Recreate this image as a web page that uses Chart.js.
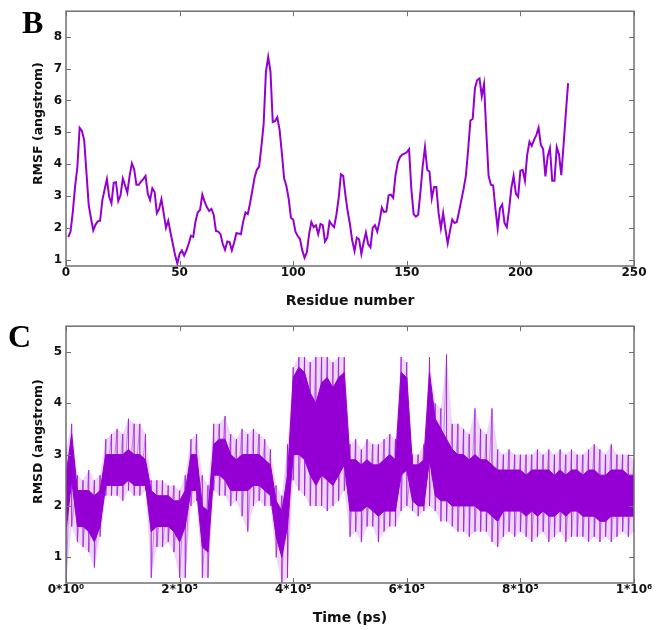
<!DOCTYPE html>
<html lang="en">
<head>
<meta charset="UTF-8" />
<title>RMSF and RMSD</title>
<script src="https://cdn.jsdelivr.net/npm/chart.js"></script>
<style>
  body { margin: 0; background: #fff; }
  #wrap { position: relative; width: 659px; height: 630px; }
  canvas { position: absolute; left: 0; }
  #rmsfChart { top: 0; }
  #rmsdChart { top: 315px; }
  .panel {
    position: absolute;
    font-family: 'Liberation Serif', serif;
    font-weight: bold;
    font-size: 32px;
    line-height: 1;
  }
</style>
</head>
<body>
<div id="wrap">
  <canvas id="rmsfChart" width="659" height="315"></canvas>
  <canvas id="rmsdChart" width="659" height="315"></canvas>
  <div class="panel" style="left:22px; top:6px;">B</div>
  <div class="panel" style="left:8px; top:320px;">C</div>
</div>

<script>
// panel B: RMSF per residue
const residues = [1,2,3,4,5,6,7,8,9,10,11,12,13,14,15,16,17,18,19,20,
  21,22,23,24,25,26,27,28,29,30,31,32,33,34,35,36,37,38,39,40,
  41,42,43,44,45,46,47,48,49,50,51,52,53,54,55,56,57,58,59,60,
  61,62,63,64,65,66,67,68,69,70,71,72,73,74,75,76,77,78,79,80,
  81,82,83,84,85,86,87,88,89,90,91,92,93,94,95,96,97,98,99,100,
  101,102,103,104,105,106,107,108,109,110,111,112,113,114,115,116,117,118,119,120,
  121,122,123,124,125,126,127,128,129,130,131,132,133,134,135,136,137,138,139,140,
  141,142,143,144,145,146,147,148,149,150,151,152,153,154,155,156,157,158,159,160,
  161,162,163,164,165,166,167,168,169,170,171,172,173,174,175,176,177,178,179,180,
  181,182,183,184,185,186,187,188,189,190,191,192,193,194,195,196,197,198,199,200,
  201,202,203,204,205,206,207,208,209,210,211,212,213,214,215,216,217,218,219,220,221];
const rmsf = [1.71,1.88,2.5,3.3,3.9,5.14,5.04,4.76,3.73,2.71,2.3,1.92,2.1,2.2,2.22,2.87,3.2,3.53,2.97,2.77,
  3.41,3.43,2.84,3.02,3.55,3.33,3.1,3.63,4.02,3.84,3.35,3.35,3.45,3.53,3.63,3.07,2.87,3.24,3.12,2.46,
  2.59,2.9,2.46,2.0,2.22,1.85,1.5,1.15,0.88,1.18,1.29,1.13,1.29,1.5,1.75,1.71,2.2,2.49,2.56,3.04,
  2.82,2.65,2.53,2.59,2.41,1.9,1.88,1.8,1.49,1.31,1.57,1.55,1.29,1.54,1.83,1.82,1.8,2.2,2.48,2.43,
  2.77,3.17,3.58,3.82,3.92,4.55,5.27,6.9,7.36,6.9,5.32,5.35,5.47,5.08,4.35,3.55,3.31,2.92,2.31,2.26,
  1.88,1.74,1.64,1.29,1.06,1.23,1.8,2.18,2.02,2.08,1.8,2.12,2.08,1.57,1.69,2.2,2.1,2.02,2.41,2.92,
  3.68,3.63,3.02,2.51,2.1,1.59,1.27,1.69,1.64,1.18,1.54,1.85,1.49,1.39,2.0,2.08,1.88,2.2,2.63,2.49,
  2.51,3.02,3.04,2.94,3.63,4.04,4.22,4.3,4.33,4.37,4.47,3.22,2.43,2.35,2.41,3.12,3.94,4.53,3.82,3.76,
  2.92,3.28,3.28,2.46,1.98,2.46,1.95,1.51,1.9,2.26,2.15,2.18,2.51,2.87,3.22,3.63,4.45,5.37,5.42,6.39,
  6.64,6.69,6.13,6.51,5.0,3.63,3.35,3.33,2.6,1.98,2.61,2.73,2.15,2.02,2.56,3.24,3.63,3.07,2.97,3.79,
  3.82,3.48,4.3,4.7,4.57,4.76,4.91,5.14,4.6,4.47,3.61,4.24,4.5,3.48,3.48,4.53,4.3,3.65,4.6,5.6,6.54];
const rmsfXTicks = [0, 50, 100, 150, 200, 250];
const rmsfYTicks = [1, 2, 3, 4, 5, 6, 7, 8];

// panel C: RMSD over time, read as bands every 1*10^4 ps
const time10kps = [0,1,2,3,4,5,6,7,8,9,10,11,12,13,14,15,16,17,18,19,20,
  21,22,23,24,25,26,27,28,29,30,31,32,33,34,35,36,37,38,39,40,
  41,42,43,44,45,46,47,48,49,50,51,52,53,54,55,56,57,58,59,60,
  61,62,63,64,65,66,67,68,69,70,71,72,73,74,75,76,77,78,79,80,
  81,82,83,84,85,86,87,88,89,90,91,92,93,94,95,96,97,98,99,100];
const rmsdMax = [3.1,3.6,2.6,2.5,2.7,2.5,2.6,3.3,3.4,3.5,3.4,3.7,3.6,3.6,3.4,2.5,2.5,2.5,2.4,2.4,2.3,
  2.6,3.3,3.4,2.6,2.4,3.6,3.6,3.75,3.4,3.3,3.5,3.4,3.5,3.4,3.3,3.1,2.4,2.2,3.2,4.7,
  4.9,4.9,4.8,4.9,4.9,4.9,4.8,4.9,4.9,3.2,3.3,3.1,3.3,3.2,3.2,3.3,3.4,3.3,4.9,4.8,
  3.0,3.0,3.2,4.9,4.0,3.9,4.95,3.6,3.6,3.5,3.4,3.9,3.5,3.4,3.9,3.1,3.0,3.1,3.0,3.0,
  3.0,3.0,3.1,3.0,3.1,3.0,3.1,3.0,3.1,3.0,3.0,3.1,3.2,3.1,3.0,3.2,3.0,3.0,3.0,2.9];
const rmsdCoreHi = [2.6,3.4,2.3,2.3,2.3,2.2,2.3,3.0,3.0,3.0,3.0,3.1,3.0,3.0,2.9,2.3,2.2,2.2,2.2,2.1,2.1,
  2.3,3.0,3.0,2.0,1.9,3.2,3.3,3.3,3.0,2.9,3.0,3.0,3.0,3.0,2.9,2.8,2.1,1.9,2.6,4.5,
  4.7,4.6,4.2,4.0,4.4,4.5,4.3,4.5,4.6,2.9,2.9,2.8,2.9,2.8,2.8,2.9,3.0,2.9,4.6,4.5,
  2.8,2.8,2.9,4.6,3.7,3.5,3.3,3.1,3.0,3.0,2.9,3.0,2.9,2.9,2.8,2.7,2.7,2.7,2.7,2.7,
  2.6,2.7,2.7,2.7,2.7,2.6,2.7,2.6,2.7,2.7,2.6,2.7,2.7,2.6,2.6,2.7,2.7,2.7,2.6,2.6];
const rmsdCoreLo = [1.5,2.5,1.6,1.6,1.5,1.3,1.6,2.4,2.4,2.4,2.4,2.5,2.4,2.4,2.4,1.5,1.6,1.6,1.6,1.5,1.3,
  1.6,2.3,2.3,1.2,1.1,2.6,2.6,2.5,2.3,2.3,2.3,2.3,2.4,2.4,2.3,2.2,1.4,1.0,1.6,3.0,
  3.0,2.9,2.6,2.4,2.6,2.5,2.4,2.6,2.8,1.9,1.9,1.9,2.0,1.9,1.8,1.9,1.9,1.9,2.6,2.7,
  2.1,2.0,2.0,2.9,2.2,2.1,2.1,2.0,2.0,2.0,2.0,2.0,1.9,1.9,1.8,1.7,1.9,1.9,1.9,1.9,
  1.8,1.9,1.8,1.9,1.8,1.8,1.9,1.8,1.9,1.9,1.8,1.8,1.8,1.7,1.7,1.8,1.8,1.8,1.8,1.8];
const rmsdMin = [0.5,1.6,1.3,1.2,1.1,0.8,1.4,2.2,2.2,2.2,2.1,2.3,2.2,2.2,2.3,0.6,1.2,1.2,1.3,1.1,0.6,
  0.6,2.0,2.1,0.6,0.6,2.3,2.2,2.2,2.0,2.1,1.8,1.5,2.0,2.1,2.0,2.0,1.0,0.5,0.6,2.5,
  2.3,2.2,2.0,2.0,2.0,1.9,2.0,2.1,2.3,1.4,1.5,1.3,1.6,1.6,1.3,1.5,1.6,1.6,1.9,2.0,
  1.9,1.8,1.9,2.0,1.9,1.7,1.7,1.6,1.5,1.5,1.4,1.5,1.5,1.5,1.3,1.2,1.4,1.5,1.4,1.5,
  1.4,1.3,1.4,1.5,1.3,1.4,1.5,1.3,1.4,1.4,1.4,1.3,1.4,1.3,1.4,1.3,1.4,1.5,1.4,1.5];
const rmsdXTicks = [0, 200000, 400000, 600000, 800000, 1000000];
const rmsdXLabels = ['0*10\u2070', '2*10\u2075', '4*10\u2075', '6*10\u2075', '8*10\u2075', '1*10\u2076'];
const rmsdYTicks = [1, 2, 3, 4, 5];

Chart.defaults.font.family = "'DejaVu Sans', Verdana, sans-serif";
Chart.defaults.font.weight = 'bold';
Chart.defaults.color = '#111';

const violet = '#9400D3';
const frameColor = '#707070';

// box around the plot with inward ticks on all four sides, plus rotated y title
const frameTicks = {
  id: 'frameTicks',
  afterDraw(chart, args, opts) {
    const { ctx, chartArea: a, scales } = chart;
    ctx.save();
    ctx.strokeStyle = frameColor;
    ctx.lineWidth = 1.5;
    ctx.strokeRect(a.left, a.top, a.right - a.left, a.bottom - a.top);
    ctx.lineWidth = 1;
    ctx.beginPath();
    scales.x.ticks.forEach(t => {
      const px = Math.round(scales.x.getPixelForValue(t.value)) + 0.5;
      ctx.moveTo(px, a.bottom); ctx.lineTo(px, a.bottom - 5);
      ctx.moveTo(px, a.top); ctx.lineTo(px, a.top + 5);
    });
    scales.y.ticks.forEach(t => {
      const py = Math.round(scales.y.getPixelForValue(t.value)) + 0.5;
      ctx.moveTo(a.left, py); ctx.lineTo(a.left + 5, py);
      ctx.moveTo(a.right, py); ctx.lineTo(a.right - 5, py);
    });
    ctx.stroke();

    ctx.translate(opts.x, (a.top + a.bottom) / 2 - opts.shift);
    ctx.rotate(-Math.PI / 2);
    ctx.fillStyle = '#111';
    ctx.font = "bold 12.5px 'DejaVu Sans'";
    ctx.textAlign = 'center';
    ctx.textBaseline = 'middle';
    ctx.fillText(opts.text, 0, 0);
    ctx.restore();
  }
};

function axes(xMin, xMax, xTicks, xLabels, xTitle, yMin, yMax, yTicks, xHeight) {
  return {
    x: {
      type: 'linear', min: xMin, max: xMax,
      grid: { display: false, drawTicks: false },
      border: { display: false },
      afterBuildTicks: s => { s.ticks = xTicks.map(v => ({ value: v })); },
      afterFit: s => { s.height = xHeight; },
      ticks: {
        padding: 0, maxRotation: 0, autoSkip: false,
        font: { size: 12, weight: 'bold' },
        callback: (v) => xLabels ? xLabels[xTicks.indexOf(v)] : v
      },
      title: { display: true, text: xTitle, font: { size: 14, weight: 'bold' }, padding: { bottom: 5 } }
    },
    y: {
      min: yMin, max: yMax,
      grid: { display: false, drawTicks: false },
      border: { display: false },
      afterBuildTicks: s => { s.ticks = yTicks.map(v => ({ value: v })); },
      afterFit: s => { s.width = 66; },
      ticks: { padding: 4, font: { size: 12, weight: 'bold' } }
    }
  };
}

new Chart(document.getElementById('rmsfChart'), {
  type: 'line',
  data: {
    datasets: [{
      data: residues.map((r, i) => ({ x: r, y: rmsf[i] })),
      borderColor: violet,
      borderWidth: 2,
      pointRadius: 0,
      tension: 0,
      fill: false
    }]
  },
  options: {
    responsive: false,
    animation: false,
    devicePixelRatio: 1,
    layout: { padding: { top: 5, right: 25, left: 0, bottom: 0 } },
    plugins: {
      legend: { display: false },
      tooltip: { enabled: false },
      frameTicks: { text: 'RMSF (angstrom)', x: 38.5, shift: 15 }
    },
    scales: axes(0, 250, rmsfXTicks, null, 'Residue number', 0.8, 8.8, rmsfYTicks, 49)
  },
  plugins: [frameTicks]
});

const band = arr => time10kps.map((t, i) => ({ x: t * 1e4, y: arr[i] }));
// spikes: at each sampled time go from the highest to the lowest value read there
const spikes = [];
time10kps.forEach((t, i) => {
  spikes.push({ x: t * 1e4, y: rmsdMax[i] });
  spikes.push({ x: t * 1e4, y: rmsdMin[i] });
});
const light = 'rgba(148, 0, 211, 0.4)';
const haze = 'rgba(148, 0, 211, 0.16)';

new Chart(document.getElementById('rmsdChart'), {
  type: 'line',
  data: {
    datasets: [
      { data: band(rmsdCoreHi), fill: '+1', backgroundColor: violet, borderColor: violet,
        borderWidth: 1, pointRadius: 0 },
      { data: band(rmsdCoreLo), fill: false, borderColor: violet,
        borderWidth: 1, pointRadius: 0 },
      { data: spikes, fill: false, borderColor: light,
        borderWidth: 1, pointRadius: 0 },
      { data: band(rmsdMax), fill: '+1', backgroundColor: haze, borderWidth: 0, pointRadius: 0 },
      { data: band(rmsdMin), fill: false, borderWidth: 0, pointRadius: 0 }
    ]
  },
  options: {
    responsive: false,
    animation: false,
    devicePixelRatio: 1,
    layout: { padding: { top: 8, right: 25, left: 0, bottom: 0 } },
    plugins: {
      legend: { display: false },
      tooltip: { enabled: false },
      frameTicks: { text: 'RMSD (angstrom)', x: 38.5, shift: 13 }
    },
    scales: (() => {
      const s = axes(0, 1000000, rmsdXTicks, rmsdXLabels, 'Time (ps)', 0.5, 5.5, rmsdYTicks, 47);
      s.x.title.padding = { bottom: 3 };
      return s;
    })()
  },
  plugins: [frameTicks]
});
</script>
</body>
</html>
